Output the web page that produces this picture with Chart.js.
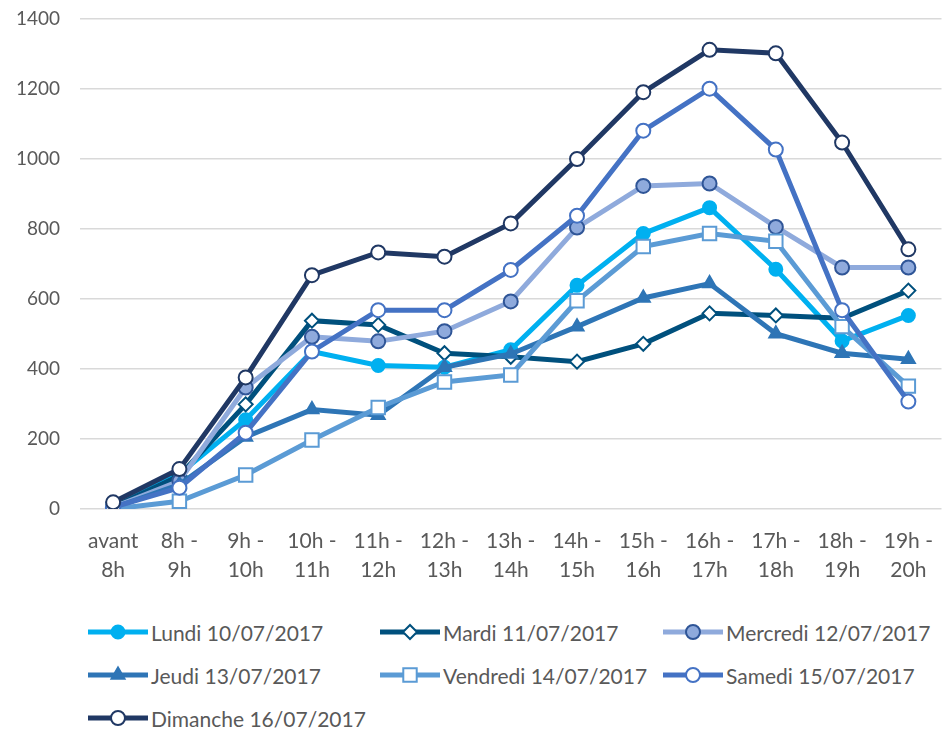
<!DOCTYPE html>
<html>
<head>
<meta charset="utf-8">
<script src="https://cdn.jsdelivr.net/npm/chart.js@4.4.0/dist/chart.umd.min.js"></script>
<style>
  body { margin: 0; background: #fff; width: 947px; height: 730px; overflow: hidden; position: relative; }
  #wrap { position: absolute; left: 0; top: 0; width: 953px; height: 589px; }
  #legend { position: absolute; left: 0; top: 0; font-family: 'Lato', sans-serif; font-size: 21px; color: #595959; }
  .item { position: absolute; display: flex; align-items: center; height: 24px; white-space: nowrap; }
  .item canvas { margin-right: 3px; }
</style>
</head>
<body>
<div id="wrap"><canvas id="chart"></canvas></div>
<div id="legend"></div>
<script>
const hours = [
  ['avant', '8h'], ['8h -', '9h'], ['9h -', '10h'], ['10h -', '11h'], ['11h -', '12h'],
  ['12h -', '13h'], ['13h -', '14h'], ['14h -', '15h'], ['15h -', '16h'], ['16h -', '17h'],
  ['17h -', '18h'], ['18h -', '19h'], ['19h -', '20h']
];

const lundi    = [5, 100, 255, 450, 410, 405, 455, 639, 787, 861, 685, 480, 553];
const mardi    = [5, 95, 299, 538, 526, 445, 435, 421, 472, 559, 553, 545, 624];
const mercredi = [5, 80, 347, 492, 479, 508, 593, 804, 923, 930, 806, 690, 690];
const jeudi    = [3, 70, 206, 284, 268, 405, 443, 521, 603, 644, 501, 445, 428];
const vendredi = [0, 22, 97, 197, 290, 363, 383, 595, 750, 787, 765, 521, 351];
const samedi   = [5, 61, 218, 450, 568, 568, 683, 838, 1081, 1201, 1027, 568, 307];
const dimanche = [19, 114, 376, 668, 733, 721, 816, 1000, 1191, 1312, 1302, 1047, 742];

const FONT = "'Lato', sans-serif";
const TEXT = '#595959';

function series(label, data, line, style, fill, border, radius) {
  return {
    label, data,
    borderColor: line,
    borderWidth: 5,
    pointStyle: style,
    pointRadius: radius,
    pointBackgroundColor: fill,
    pointBorderColor: border,
    pointBorderWidth: 2,
    tension: 0
  };
}

const datasets = [
  series('Lundi 10/07/2017', lundi, '#00B0F0', 'circle', '#00B0F0', '#00B0F0', 6.5),
  series('Mardi 11/07/2017', mardi, '#00507D', 'rectRot', '#ffffff', '#00507D', 7),
  series('Mercredi 12/07/2017', mercredi, '#8FAADC', 'circle', '#8FAADC', '#2F5597', 7),
  series('Jeudi 13/07/2017', jeudi, '#2E75B6', 'triangle', '#2E75B6', '#2E75B6', 7.5),
  series('Vendredi 14/07/2017', vendredi, '#5B9BD5', 'rect', '#ffffff', '#5B9BD5', 9.5),
  series('Samedi 15/07/2017', samedi, '#4472C4', 'circle', '#ffffff', '#4472C4', 7),
  series('Dimanche 16/07/2017', dimanche, '#203864', 'circle', '#ffffff', '#203864', 7)
];
// Excel draws the last series on top
datasets.forEach((d, i) => { d.order = datasets.length - 1 - i; });

const chart = new Chart(document.getElementById('chart'), {
  type: 'line',
  data: { labels: hours, datasets },
  options: {
    responsive: true,
    maintainAspectRatio: false,
    animation: false,
    layout: { padding: { top: 19, left: 0, right: 0, bottom: 0 } },
    plugins: { legend: { display: false }, tooltip: { enabled: false } },
    scales: {
      x: {
        offset: true,
        grid: { display: false, drawTicks: false },
        border: { display: false },
        ticks: {
          color: TEXT, font: { family: FONT, size: 21, lineHeight: 1.38 },
          padding: 18, maxRotation: 0, autoSkip: false
        },
        afterFit: (s) => { s.height = 80; s.paddingLeft = 0; s.paddingRight = 0; }
      },
      y: {
        min: 0, max: 1400,
        grid: { color: '#D9D9D9', lineWidth: 1.5, drawTicks: false },
        border: { display: false },
        ticks: {
          stepSize: 200, color: TEXT, font: { family: FONT, size: 19 }, padding: 20,
          callback: (v) => String(v)
        },
        afterFit: (s) => { s.width = 80; s.paddingTop = 0; s.paddingBottom = 0; }
      }
    }
  }
});

// legend laid out as a 3-column grid like the original
const cols = [88, 380, 663];
const rows = [632, 675, 718];
const legend = document.getElementById('legend');
datasets.forEach((d, i) => {
  const item = document.createElement('div');
  item.className = 'item';
  item.style.left = cols[i % 3] + 'px';
  item.style.top = (rows[Math.floor(i / 3)] - 12) + 'px';

  const c = document.createElement('canvas');
  c.width = 60; c.height = 24;
  const ctx = c.getContext('2d');
  ctx.strokeStyle = d.borderColor;
  ctx.lineWidth = d.borderWidth;
  ctx.beginPath();
  ctx.moveTo(0, 12);
  ctx.lineTo(60, 12);
  ctx.stroke();
  ctx.fillStyle = d.pointBackgroundColor;
  ctx.strokeStyle = d.pointBorderColor;
  ctx.lineWidth = d.pointBorderWidth;
  Chart.helpers.drawPoint(ctx, { pointStyle: d.pointStyle, radius: d.pointRadius, borderWidth: d.pointBorderWidth, rotation: 0 }, 30, 12);

  const span = document.createElement('span');
  span.textContent = d.label;
  item.appendChild(c);
  item.appendChild(span);
  legend.appendChild(item);
});
</script>
</body>
</html>
